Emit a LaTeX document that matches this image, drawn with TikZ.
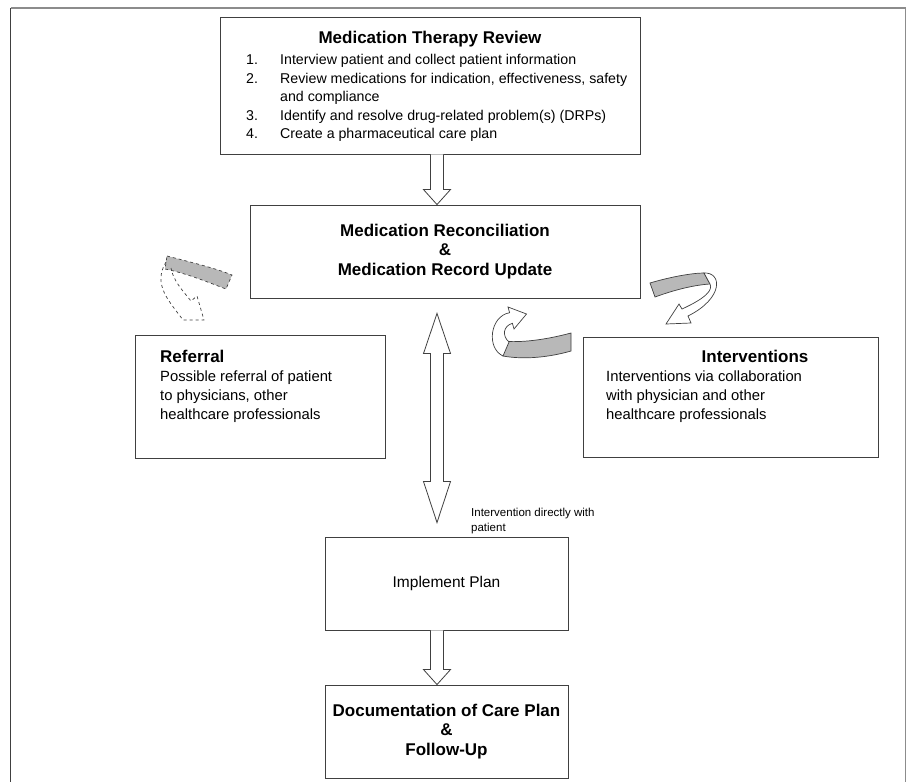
\documentclass[tikz,border=0pt]{standalone}
\usepackage{fontspec}
\setmainfont{Liberation Sans}
\usetikzlibrary{calc}
\definecolor{bandgray}{gray}{0.72}
\definecolor{linegray}{gray}{0.25}
\begin{document}
\begin{tikzpicture}[x=1pt,y=-1pt,
  box/.style={draw=linegray, line width=0.9pt, fill=white, inner sep=0pt},
  hollow/.style={draw=linegray, line width=0.8pt, fill=white, line join=miter},
  band/.style={draw=linegray, line width=0.7pt, fill=bandgray},
  ttl/.style={font=\fontsize{17}{20}\selectfont\bfseries, inner sep=0pt},
  ttlc/.style={font=\fontsize{17}{19.5}\selectfont\bfseries, inner sep=0pt, align=center},
  txt/.style={font=\fontsize{14.2}{18.5}\selectfont, inner sep=0pt, anchor=base west},
  para/.style={font=\fontsize{14.8}{19}\selectfont, inner sep=0pt, align=left, anchor=north west},
  lbl/.style={font=\fontsize{11.5}{15}\selectfont, inner sep=0pt, align=left, anchor=north west}]
\useasboundingbox (0,0) rectangle (909,782);
% outer frame
\draw[black!45, line width=1.4pt] (10.5,8) -- (905.5,8) -- (905.5,782);
\draw[black!75, line width=1.4pt] (10.5,8) -- (10.5,782);

% boxes
\node[box, minimum width=420pt, minimum height=137pt] (mtr) at (430,85.5) {};
\node[box, minimum width=390pt, minimum height=93pt] (rec) at (445,251.5) {};
\node[box, minimum width=250pt, minimum height=123pt] (ref) at (260,396.5) {};
\node[box, minimum width=295pt, minimum height=120pt] (int) at (730.5,397.5) {};
\node[box, minimum width=243pt, minimum height=93pt] (imp) at (446.5,583.5) {};
\node[box, minimum width=243pt, minimum height=93pt] (doc) at (446.5,731.5) {};

% top box text
\node[ttl] (mtrT) at (mtr.center |- 0,39) {Medication Therapy Review};
\node[txt] (n1) at (246,64) {1.};
\node[txt] (t1) at (280,64) {Interview patient and collect patient information};
\node[txt] (n2) at (246,83) {2.};
\node[txt] (t2) at (280,83) {Review medications for indication, effectiveness, safety};
\node[txt] (t2b) at (280,101) {and compliance};
\node[txt] (n3) at (246,120) {3.};
\node[txt] (t3) at (280,120) {Identify and resolve drug-related problem(s) (DRPs)};
\node[txt] (n4) at (246,138) {4.};
\node[txt] (t4) at (280,138) {Create a pharmaceutical care plan};

% other texts
\node[ttlc] (recT) at (rec) {Medication Reconciliation\\\&\\Medication Record Update};
\node[ttl, anchor=west] (refT) at (160,356) {Referral};
\node[para] (refP) at (160,371) {Possible referral of patient\\to physicians, other\\healthcare professionals};
\node[ttl] (intT) at (755,356) {Interventions};
\node[para] (intP) at (606,371) {Interventions via collaboration\\with physician and other\\healthcare professionals};
\node[font=\fontsize{15.5}{19}\selectfont, inner sep=0pt] (impT) at (imp) {Implement Plan};
\node[ttlc] (docT) at (doc) {Documentation of Care Plan\\\&\\Follow-Up};
\node[lbl] (dlab) at (471,508) {Intervention directly with\\patient};

% common axis of the hollow arrows
\coordinate (ax) at (437,0);
% hollow arrow: MTR -> reconciliation
\coordinate (a1s) at (ax |- mtr.south);
\coordinate (a1e) at (ax |- rec.north);
\draw[hollow] ($(a1s)+(-6.5,0)$) -- ($(a1e)+(-6.5,-15)$) -- ($(a1e)+(-13.5,-15)$)
  -- (a1e) -- ($(a1e)+(13.5,-15)$) -- ($(a1e)+(6.5,-15)$) -- ($(a1s)+(6.5,0)$);
% hollow arrow: implement -> documentation
\coordinate (a2s) at (ax |- imp.south);
\coordinate (a2e) at (ax |- doc.north);
\draw[hollow] ($(a2s)+(-6.5,0)$) -- ($(a2e)+(-6.5,-15)$) -- ($(a2e)+(-13.5,-15)$)
  -- (a2e) -- ($(a2e)+(13.5,-15)$) -- ($(a2e)+(6.5,-15)$) -- ($(a2s)+(6.5,0)$);
% double hollow arrow: reconciliation <-> implement
\coordinate (dt) at ($(ax |- rec.south)+(0,15)$);
\coordinate (db) at ($(ax |- imp.north)+(0,-14)$);
\draw[hollow] (dt) -- ($(dt)+(13.5,40)$) -- ($(dt)+(6.5,40)$) -- ($(db)+(6.5,-41)$) -- ($(db)+(13.5,-41)$)
  -- (db) -- ($(db)+(-13.5,-41)$) -- ($(db)+(-6.5,-41)$) -- ($(dt)+(-6.5,40)$) -- ($(dt)+(-13.5,40)$) -- cycle;

% dashed curved arrow above Referral
\draw[band, dashed] (167,256) .. controls (190,262) and (215,268) .. (232,275) -- (226,289)
  .. controls (205,281) and (185,273) .. (165,269) -- cycle;
\draw[linegray, line width=0.7pt, dashed] (166,262) .. controls (152,285) and (170,302) .. (183,320)
  -- (204,320) -- (197,296) -- (191,301) .. controls (182,290) and (173,280) .. (171,268);

% curved arrow between double arrow and Interventions
\draw[band] (571,333) .. controls (545,340) and (520,343) .. (502,341) -- (503,356)
  .. controls (525,360) and (550,357) .. (571,351) -- cycle;
\draw[hollow, line width=0.7pt] (503,356) .. controls (486,348) and (490,316) .. (509.6,312.7) -- (508,307)
  -- (526.5,314) -- (514,329) -- (512.4,323.3) .. controls (503,326) and (502,336) .. (509,342) -- cycle;

% curved arrow between reconciliation and Interventions
\draw[band] (650,283) .. controls (670,277) and (692,273) .. (704,273) -- (710,284)
  .. controls (694,285) and (674,290) .. (655,297) -- cycle;
\draw[hollow, line width=0.7pt] (704,273) .. controls (722,272) and (724,298) .. (688,316) -- (691,323) -- (666,324)
  -- (679,304) -- (682,309) .. controls (706,298) and (713,290) .. (710,284) -- cycle;
\end{tikzpicture}
\end{document}
